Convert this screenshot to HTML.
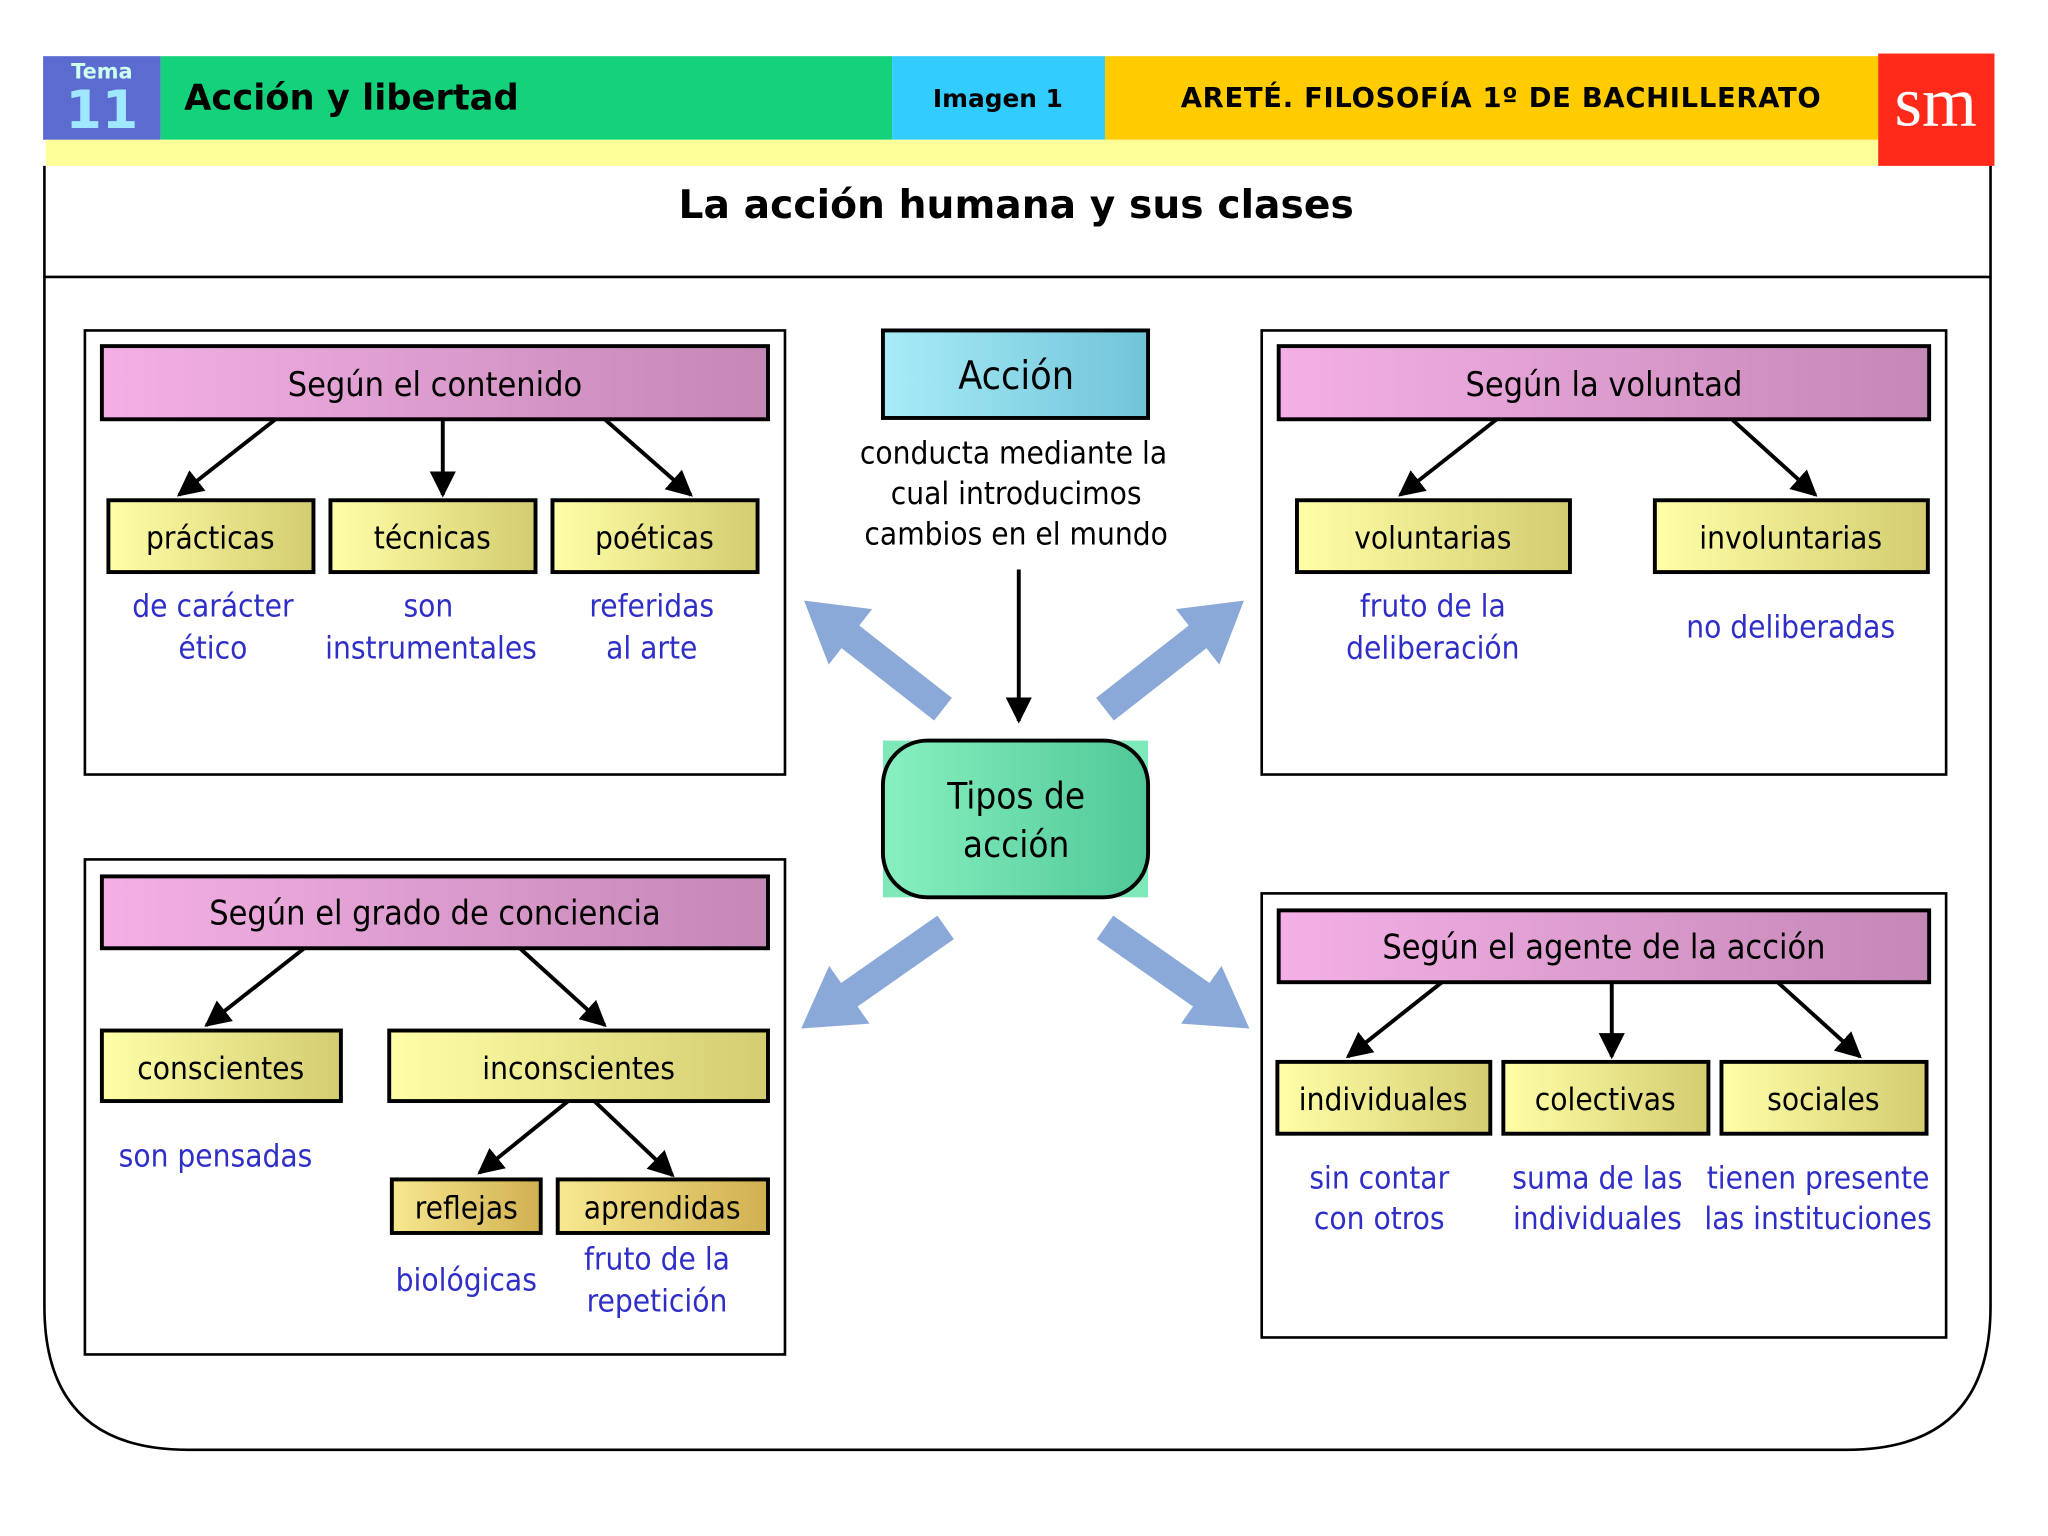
<!DOCTYPE html>
<html><head><meta charset="utf-8"><style>html,body{margin:0;padding:0;background:#fff}svg{display:block}</style></head><body>
<svg width="2048" height="1536" viewBox="0 0 1568 1176" xmlns="http://www.w3.org/2000/svg" font-family="'DejaVu Sans Condensed','Liberation Sans',sans-serif">
<defs>
<linearGradient id="pk" x1="0" x2="1"><stop offset="0" stop-color="#f4b0e6"/><stop offset="1" stop-color="#c487b6"/></linearGradient>
<linearGradient id="yl" x1="0" x2="1"><stop offset="0" stop-color="#ffffa8"/><stop offset="1" stop-color="#d4cc70"/></linearGradient>
<linearGradient id="yo" x1="0" x2="1"><stop offset="0" stop-color="#f8e890"/><stop offset="1" stop-color="#d0b050"/></linearGradient>
<linearGradient id="cy" x1="0" x2="1"><stop offset="0" stop-color="#a8ecf8"/><stop offset="1" stop-color="#70c4d8"/></linearGradient>
<linearGradient id="gr" x1="0" x2="1"><stop offset="0" stop-color="#88f0c0"/><stop offset="1" stop-color="#50c898"/></linearGradient>
<marker id="ah" viewBox="0 0 10 10" refX="9" refY="5" markerWidth="20" markerHeight="20" markerUnits="userSpaceOnUse" orient="auto"><path d="M0,0L10,5L0,10z" fill="#000"/></marker>
</defs>
<!-- header -->
<rect x="33" y="43" width="90" height="64" fill="#5b6bd0"/>
<text x="78" y="60" fill="#cfe" font-size="16" font-weight="bold" text-anchor="middle" font-family="'DejaVu Sans',sans-serif">Tema</text>
<text x="78" y="98" fill="#9fe8ff" font-size="40" font-weight="bold" text-anchor="middle" font-family="'DejaVu Sans',sans-serif">11</text>
<rect x="123" y="43" width="560" height="64" fill="#14d27c"/>
<text x="141" y="84" font-size="27" font-weight="bold" font-family="'DejaVu Sans',sans-serif">Acción y libertad</text>
<rect x="683" y="43" width="163" height="64" fill="#33ccff"/>
<text x="764" y="82" font-size="19" font-weight="bold" text-anchor="middle" font-family="'DejaVu Sans',sans-serif">Imagen 1</text>
<rect x="846" y="43" width="592" height="64" fill="#ffcc00"/>
<text x="1149" y="82" font-size="21" font-weight="bold" text-anchor="middle" font-family="'DejaVu Sans',sans-serif" textLength="490">ARETÉ. FILOSOFÍA 1º DE BACHILLERATO</text>
<rect x="35" y="107" width="1403" height="20" fill="#ffff99"/>
<rect x="1438" y="41" width="89" height="86" fill="#ff2a1a"/>
<text x="1482" y="96" fill="#fff" font-size="54" text-anchor="middle" font-family="'Liberation Serif',serif">sm</text>
<!-- frame -->
<path d="M34,127 V1000 Q34,1110 144,1110 H1414 Q1524,1110 1524,1000 V127" fill="none" stroke="#000" stroke-width="2"/>
<line x1="34" y1="212" x2="1524" y2="212" stroke="#000" stroke-width="2"/>
<text x="778" y="167" font-size="30" font-weight="bold" text-anchor="middle" font-family="'DejaVu Sans',sans-serif" textLength="517">La acción humana y sus clases</text>
<!-- panels -->
<g fill="#fff" stroke="#000" stroke-width="2">
<rect x="65" y="253" width="536" height="340"/><rect x="966" y="253" width="524" height="340"/>
<rect x="65" y="658" width="536" height="379"/><rect x="966" y="684" width="524" height="340"/>
</g>
<g stroke="#000" stroke-width="3">
<rect x="78" y="265" width="510" height="56" fill="url(#pk)"/><rect x="979" y="265" width="498" height="56" fill="url(#pk)"/>
<rect x="78" y="671" width="510" height="55" fill="url(#pk)"/><rect x="979" y="697" width="498" height="55" fill="url(#pk)"/>
</g>
<g font-size="26" text-anchor="middle">
<text x="333" y="303">Según el contenido</text><text x="1228" y="303">Según la voluntad</text>
<text x="333" y="708">Según el grado de conciencia</text><text x="1228" y="734">Según el agente de la acción</text>
</g>
<g stroke="#000" stroke-width="3" fill="url(#yl)">
<rect x="83" y="383" width="157" height="55"/><rect x="253" y="383" width="157" height="55"/><rect x="423" y="383" width="157" height="55"/>
<rect x="993" y="383" width="209" height="55"/><rect x="1267" y="383" width="209" height="55"/>
<rect x="78" y="789" width="183" height="54"/><rect x="298" y="789" width="290" height="54"/>
<rect x="978" y="813" width="163" height="55"/><rect x="1151" y="813" width="157" height="55"/><rect x="1318" y="813" width="157" height="55"/>
<rect x="300" y="903" width="114" height="41" fill="url(#yo)"/><rect x="427" y="903" width="161" height="41" fill="url(#yo)"/>
</g>
<g font-size="24" text-anchor="middle">
<text x="161" y="420">prácticas</text><text x="331" y="420">técnicas</text><text x="501" y="420">poéticas</text>
<text x="1097" y="420">voluntarias</text><text x="1371" y="420">involuntarias</text>
<text x="169" y="826">conscientes</text><text x="443" y="826">inconscientes</text>
<text x="1059" y="850">individuales</text><text x="1229" y="850">colectivas</text><text x="1396" y="850">sociales</text>
<text x="357" y="933">reflejas</text><text x="507" y="933">aprendidas</text>
</g>
<g font-size="24" text-anchor="middle" fill="#2f2fc8">
<text x="163" y="472">de carácter</text><text x="163" y="504">ético</text>
<text x="328" y="472">son</text><text x="330" y="504">instrumentales</text>
<text x="499" y="472">referidas</text><text x="499" y="504">al arte</text>
<text x="1097" y="472">fruto de la</text><text x="1097" y="504">deliberación</text>
<text x="1371" y="488">no deliberadas</text>
<text x="165" y="893">son pensadas</text>
<text x="357" y="988">biológicas</text>
<text x="503" y="972">fruto de la</text><text x="503" y="1004">repetición</text>
<text x="1056" y="910">sin contar</text><text x="1056" y="941">con otros</text>
<text x="1223" y="910">suma de las</text><text x="1223" y="941">individuales</text>
<text x="1392" y="910">tienen presente</text><text x="1392" y="941">las instituciones</text>
</g>
<!-- black arrows -->
<g stroke="#000" stroke-width="3" marker-end="url(#ah)">
<line x1="211" y1="321" x2="137" y2="379"/><line x1="339" y1="321" x2="339" y2="379"/><line x1="463" y1="321" x2="529" y2="379"/>
<line x1="1146" y1="321" x2="1072" y2="379"/><line x1="1326" y1="321" x2="1390" y2="379"/>
<line x1="233" y1="726" x2="158" y2="785"/><line x1="398" y1="726" x2="463" y2="785"/>
<line x1="435" y1="843" x2="367" y2="898"/><line x1="455" y1="843" x2="515" y2="900"/>
<line x1="1104" y1="752" x2="1032" y2="809"/><line x1="1234" y1="752" x2="1234" y2="809"/><line x1="1361" y1="752" x2="1424" y2="809"/>
<line x1="780" y1="436" x2="780" y2="552"/>
</g>
<!-- center -->
<rect x="676" y="253" width="203" height="67" fill="url(#cy)" stroke="#000" stroke-width="3"/>
<text x="778" y="298" font-size="30" text-anchor="middle">Acción</text>
<g font-size="24" text-anchor="middle">
<text x="776" y="355">conducta mediante la</text><text x="778" y="386">cual introducimos</text><text x="778" y="417">cambios en el mundo</text>
</g>
<rect x="676" y="567" width="203" height="120" fill="#7ee8b8"/>
<rect x="676" y="567" width="203" height="120" rx="34" fill="url(#gr)" stroke="#000" stroke-width="3"/>
<text x="778" y="619" font-size="28" text-anchor="middle">Tipos de</text><text x="778" y="656" font-size="28" text-anchor="middle">acción</text>
<!-- blue arrows -->
<g fill="#8aa8d8">
<g transform="translate(722,543) rotate(-142)"><path d="M0,-11 H90 V-27 L135,0 L90,27 V11 H0 z"/></g>
<g transform="translate(846,543) rotate(-38)"><path d="M0,-11 H90 V-27 L135,0 L90,27 V11 H0 z"/></g>
<g transform="translate(724,710) rotate(145)"><path d="M0,-11 H90 V-27 L135,0 L90,27 V11 H0 z"/></g>
<g transform="translate(846,710) rotate(35)"><path d="M0,-11 H90 V-27 L135,0 L90,27 V11 H0 z"/></g>
</g>
</svg>
</body></html>
